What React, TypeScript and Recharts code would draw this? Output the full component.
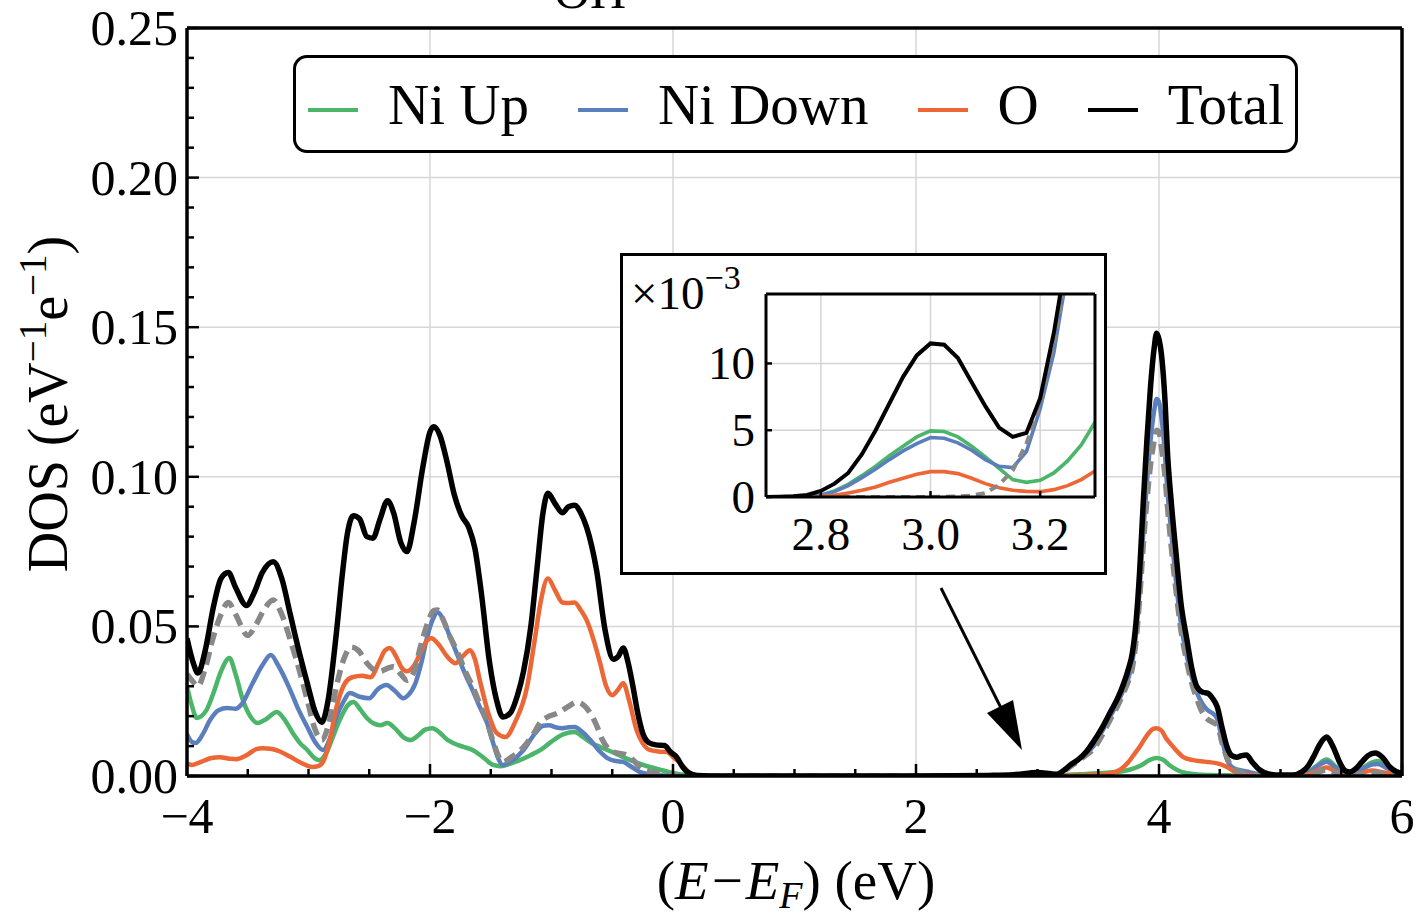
import React from "react";
import { LineChart, Line, XAxis, YAxis, ReferenceLine, Legend } from "recharts";

const FONT = '"Liberation Serif", "Times New Roman", serif';

// main frame in px
const W = 1420;
const H = 918;
const PLOT = { left: 187, right: 1402, top: 28, bottom: 776 };

// axis ticks
const X_TICKS = [-4, -3.5, -3, -2.5, -2, -1.5, -1, -0.5, 0, 0.5, 1, 1.5, 2, 2.5, 3, 3.5, 4, 4.5, 5, 5.5, 6];
const X_LABELS = [-4, -2, 0, 2, 4, 6];
const Y_TICKS = [0, 0.01, 0.02, 0.03, 0.04, 0.05, 0.06, 0.07, 0.08, 0.09, 0.1, 0.11, 0.12, 0.13, 0.14, 0.15,
  0.16, 0.17, 0.18, 0.19, 0.2, 0.21, 0.22, 0.23, 0.24, 0.25];
const Y_LABELS = [0, 0.05, 0.1, 0.15, 0.2, 0.25];
const GRID_X = [-2, 0, 2, 4];
const GRID_Y = [0.05, 0.1, 0.15, 0.2];
const LEGEND_ORDER = ["Ni Up", "Ni Down", "O", "Total"];

// [E - EF (eV), DOS]
const NI_UP: [number, number][] = [
  [-4.0, 0.03], [-3.96, 0.0235], [-3.92, 0.0194], [-3.84, 0.022], [-3.78, 0.028], [-3.72, 0.035], [-3.65, 0.0394],
  [-3.6, 0.034], [-3.54, 0.0254], [-3.48, 0.02], [-3.42, 0.0177], [-3.35, 0.019], [-3.26, 0.0214], [-3.2, 0.019],
  [-3.13, 0.0144], [-3.07, 0.011], [-3.01, 0.0087], [-2.95, 0.006], [-2.91, 0.0053], [-2.85, 0.008], [-2.8, 0.013],
  [-2.74, 0.019], [-2.68, 0.0235], [-2.63, 0.0247], [-2.57, 0.022], [-2.52, 0.0194], [-2.46, 0.0175], [-2.41, 0.017],
  [-2.35, 0.0177], [-2.29, 0.016], [-2.22, 0.013], [-2.16, 0.012], [-2.1, 0.0135], [-2.04, 0.0155], [-1.98, 0.016],
  [-1.92, 0.0145], [-1.86, 0.0122], [-1.81, 0.011], [-1.73, 0.0098], [-1.65, 0.0087], [-1.57, 0.0065], [-1.48, 0.0037],
  [-1.42, 0.0033], [-1.37, 0.0037], [-1.28, 0.005], [-1.18, 0.0068], [-1.09, 0.0087], [-1.0, 0.0115], [-0.9, 0.014],
  [-0.81, 0.0147], [-0.74, 0.013], [-0.67, 0.011], [-0.6, 0.0097], [-0.5, 0.008], [-0.41, 0.0063], [-0.3, 0.0045],
  [-0.19, 0.003], [-0.1, 0.002], [-0.03, 0.0013], [0.05, 0.0006], [0.15, 0.0002], [0.3, 0], [2.6, 0], [3.0, 0.0005],
  [3.2, 0.0003], [3.4, 0.0007], [3.6, 0.0012], [3.75, 0.002], [3.85, 0.0035], [3.93, 0.0055], [3.98, 0.006],
  [4.03, 0.0055], [4.09, 0.0035], [4.15, 0.002], [4.22, 0.001], [4.35, 0.0004], [4.6, 0.0002], [5.0, 0.0001],
  [5.2, 0.0006], [5.3, 0.0035], [5.38, 0.0055], [5.46, 0.003], [5.55, 0.001], [5.65, 0.002], [5.75, 0.0045],
  [5.8, 0.005], [5.88, 0.003], [6.0, 0.0008],
];

const NI_DOWN: [number, number][] = [
  [-4.0, 0.014], [-3.96, 0.0114], [-3.93, 0.011], [-3.87, 0.014], [-3.81, 0.0187], [-3.74, 0.022], [-3.67, 0.0227],
  [-3.6, 0.0225], [-3.55, 0.024], [-3.46, 0.031], [-3.38, 0.037], [-3.31, 0.0404], [-3.25, 0.037], [-3.15, 0.0287],
  [-3.08, 0.022], [-3.01, 0.0164], [-2.94, 0.011], [-2.88, 0.0087], [-2.82, 0.013], [-2.77, 0.0197], [-2.71, 0.025],
  [-2.66, 0.0277], [-2.58, 0.0265], [-2.5, 0.026], [-2.43, 0.029], [-2.36, 0.0304], [-2.29, 0.0285], [-2.22, 0.026],
  [-2.18, 0.027], [-2.12, 0.031], [-2.07, 0.038], [-2.02, 0.047], [-1.97, 0.053], [-1.94, 0.0548], [-1.9, 0.053],
  [-1.84, 0.047], [-1.78, 0.041], [-1.71, 0.034], [-1.65, 0.0287], [-1.59, 0.023], [-1.53, 0.0177], [-1.48, 0.011],
  [-1.44, 0.006], [-1.4, 0.0037], [-1.33, 0.005], [-1.23, 0.0087], [-1.14, 0.014], [-1.07, 0.0168], [-1.02, 0.017],
  [-0.96, 0.0162], [-0.91, 0.016], [-0.86, 0.0163], [-0.81, 0.0164], [-0.74, 0.0145], [-0.68, 0.012], [-0.61, 0.0085],
  [-0.54, 0.006], [-0.47, 0.005], [-0.41, 0.0047], [-0.34, 0.003], [-0.27, 0.0013], [-0.18, 0.0005], [-0.05, 0.0001],
  [0.2, 0], [2.6, 0], [3.0, 0.0004], [3.1, 0.0003], [3.2, 0.0015], [3.3, 0.0045], [3.4, 0.0075], [3.46, 0.01],
  [3.53, 0.0148], [3.6, 0.02], [3.66, 0.0245], [3.71, 0.029], [3.75, 0.033], [3.78, 0.038], [3.81, 0.047],
  [3.84, 0.062], [3.87, 0.081], [3.9, 0.098], [3.93, 0.112], [3.96, 0.122], [3.98, 0.126], [4.0, 0.125],
  [4.02, 0.12], [4.05, 0.107], [4.07, 0.095], [4.1, 0.082], [4.14, 0.065], [4.18, 0.051], [4.23, 0.04],
  [4.27, 0.033], [4.31, 0.028], [4.36, 0.024], [4.4, 0.022], [4.44, 0.021], [4.48, 0.019], [4.52, 0.012],
  [4.56, 0.0055], [4.6, 0.003], [4.66, 0.002], [4.72, 0.0015], [4.8, 0.0008], [4.9, 0.0002], [5.2, 0.0004],
  [5.3, 0.0032], [5.38, 0.0048], [5.46, 0.0025], [5.55, 0.0008], [5.65, 0.0018], [5.75, 0.0038], [5.8, 0.004],
  [5.88, 0.0025], [6.0, 0.0006],
];

const OXYGEN: [number, number][] = [
  [-4.0, 0.004], [-3.96, 0.0037], [-3.9, 0.0045], [-3.8, 0.006], [-3.73, 0.0063], [-3.65, 0.0058], [-3.6, 0.0056],
  [-3.5, 0.0072], [-3.43, 0.009], [-3.38, 0.0093], [-3.3, 0.009], [-3.23, 0.0081], [-3.15, 0.0064], [-3.05, 0.0042],
  [-2.97, 0.003], [-2.92, 0.0033], [-2.88, 0.0048], [-2.83, 0.011], [-2.77, 0.023], [-2.7, 0.031], [-2.64, 0.033],
  [-2.56, 0.0335], [-2.49, 0.033], [-2.42, 0.038], [-2.37, 0.042], [-2.33, 0.0428], [-2.28, 0.04], [-2.23, 0.036],
  [-2.19, 0.035], [-2.13, 0.037], [-2.08, 0.041], [-2.03, 0.045], [-1.99, 0.046], [-1.93, 0.044], [-1.86, 0.04],
  [-1.79, 0.0377], [-1.73, 0.04], [-1.67, 0.042], [-1.63, 0.039], [-1.59, 0.032], [-1.52, 0.021], [-1.45, 0.0143],
  [-1.38, 0.013], [-1.3, 0.018], [-1.2, 0.03], [-1.14, 0.045], [-1.09, 0.058], [-1.03, 0.066], [-0.97, 0.062],
  [-0.91, 0.058], [-0.86, 0.0578], [-0.81, 0.058], [-0.76, 0.0555], [-0.71, 0.052], [-0.65, 0.045], [-0.6, 0.0377],
  [-0.55, 0.03], [-0.5, 0.027], [-0.45, 0.029], [-0.41, 0.031], [-0.36, 0.025], [-0.3, 0.0154], [-0.25, 0.011],
  [-0.19, 0.0087], [-0.12, 0.0082], [-0.05, 0.008], [0.01, 0.006], [0.06, 0.0043], [0.1, 0.0025], [0.14, 0.001],
  [0.2, 0.0002], [0.4, 0], [2.6, 0], [3.0, 0.0002], [3.2, 0.0001], [3.5, 0.0004], [3.65, 0.0015], [3.74, 0.0043],
  [3.8, 0.0075], [3.84, 0.0097], [3.9, 0.0135], [3.95, 0.0157], [3.98, 0.016], [4.02, 0.0152], [4.06, 0.0125],
  [4.09, 0.011], [4.15, 0.0082], [4.2, 0.0063], [4.28, 0.0053], [4.35, 0.0049], [4.4, 0.0047], [4.48, 0.0042],
  [4.56, 0.003], [4.62, 0.0015], [4.7, 0.0005], [4.8, 0.0001], [5.2, 0.0002], [5.3, 0.0018], [5.38, 0.0028],
  [5.45, 0.0016], [5.55, 0.0004], [5.65, 0.0008], [5.75, 0.0018], [5.85, 0.0012], [6.0, 0.0003],
];

const DASHED: [number, number][] = [
  [-4.0, 0.034], [-3.96, 0.032], [-3.91, 0.03], [-3.85, 0.036], [-3.79, 0.0455], [-3.72, 0.054], [-3.66, 0.058],
  [-3.6, 0.054], [-3.5, 0.047], [-3.44, 0.05], [-3.36, 0.056], [-3.29, 0.0588], [-3.22, 0.054], [-3.15, 0.0455],
  [-3.08, 0.036], [-3.01, 0.0254], [-2.95, 0.016], [-2.89, 0.012], [-2.83, 0.018], [-2.77, 0.03], [-2.71, 0.039],
  [-2.65, 0.0431], [-2.59, 0.042], [-2.52, 0.0378], [-2.46, 0.0355], [-2.41, 0.035], [-2.35, 0.036], [-2.3, 0.0365],
  [-2.24, 0.034], [-2.19, 0.032], [-2.13, 0.035], [-2.08, 0.043], [-2.02, 0.051], [-1.97, 0.0553], [-1.94, 0.0555],
  [-1.9, 0.053], [-1.84, 0.047], [-1.78, 0.042], [-1.71, 0.035], [-1.65, 0.03], [-1.59, 0.024], [-1.53, 0.018],
  [-1.48, 0.0115], [-1.44, 0.007], [-1.4, 0.0047], [-1.33, 0.0063], [-1.23, 0.0097], [-1.15, 0.014], [-1.09, 0.018],
  [-1.02, 0.02], [-0.95, 0.021], [-0.87, 0.023], [-0.79, 0.0247], [-0.73, 0.0235], [-0.68, 0.021], [-0.63, 0.017],
  [-0.58, 0.012], [-0.53, 0.009], [-0.49, 0.008], [-0.43, 0.0075], [-0.38, 0.007], [-0.32, 0.005], [-0.27, 0.0027],
  [-0.2, 0.0015], [-0.13, 0.001], [-0.05, 0.0004], [0.1, 0], [3.0, 0], [3.1, 0.0002], [3.2, 0.0012], [3.3, 0.004],
  [3.4, 0.007], [3.46, 0.009], [3.53, 0.0135], [3.6, 0.019], [3.66, 0.0235], [3.71, 0.028], [3.75, 0.032],
  [3.78, 0.036], [3.81, 0.045], [3.84, 0.059], [3.87, 0.077], [3.9, 0.092], [3.93, 0.104], [3.96, 0.112],
  [3.98, 0.1156], [4.0, 0.115], [4.02, 0.11], [4.05, 0.1], [4.07, 0.09], [4.1, 0.077], [4.14, 0.062], [4.18, 0.049],
  [4.23, 0.038], [4.27, 0.031], [4.31, 0.026], [4.36, 0.021], [4.4, 0.019], [4.44, 0.018], [4.48, 0.017],
  [4.52, 0.011], [4.56, 0.006], [4.6, 0.003], [4.66, 0.0015], [4.72, 0.0008], [4.8, 0.0003], [5.0, 0],
  [5.2, 0.0002], [5.3, 0.0012], [5.38, 0.002], [5.46, 0.001], [5.6, 0.0003], [5.75, 0.0012], [5.85, 0.0008],
  [6.0, 0.0002],
];

const TOTAL: [number, number][] = [
  [-4.0, 0.046], [-3.95, 0.038], [-3.91, 0.0344], [-3.85, 0.042], [-3.78, 0.057], [-3.72, 0.066], [-3.66, 0.068],
  [-3.6, 0.063], [-3.51, 0.057], [-3.45, 0.061], [-3.38, 0.068], [-3.29, 0.0716], [-3.22, 0.066], [-3.15, 0.054],
  [-3.08, 0.042], [-3.01, 0.031], [-2.95, 0.022], [-2.89, 0.018], [-2.84, 0.025], [-2.77, 0.048], [-2.72, 0.068],
  [-2.68, 0.081], [-2.63, 0.087], [-2.58, 0.086], [-2.52, 0.08], [-2.47, 0.0795], [-2.41, 0.086], [-2.35, 0.092],
  [-2.3, 0.088], [-2.24, 0.078], [-2.19, 0.075], [-2.13, 0.085], [-2.06, 0.103], [-2.0, 0.115], [-1.97, 0.1167],
  [-1.92, 0.114], [-1.86, 0.105], [-1.8, 0.094], [-1.74, 0.087], [-1.68, 0.083], [-1.63, 0.076], [-1.58, 0.062],
  [-1.51, 0.038], [-1.45, 0.025], [-1.4, 0.0197], [-1.34, 0.021], [-1.28, 0.027], [-1.23, 0.035], [-1.17, 0.05],
  [-1.12, 0.069], [-1.07, 0.088], [-1.03, 0.0945], [-0.97, 0.091], [-0.91, 0.088], [-0.86, 0.09], [-0.81, 0.0905],
  [-0.76, 0.088], [-0.71, 0.083], [-0.67, 0.077], [-0.63, 0.069], [-0.56, 0.049], [-0.49, 0.039], [-0.45, 0.04],
  [-0.41, 0.0428], [-0.37, 0.038], [-0.33, 0.03], [-0.29, 0.021], [-0.25, 0.0144], [-0.2, 0.0112], [-0.14, 0.0104],
  [-0.07, 0.0102], [-0.02, 0.008], [0.03, 0.0063], [0.08, 0.003], [0.13, 0.001], [0.2, 0.0002], [0.4, 0], [2.0, 0],
  [2.6, 0.0002], [2.8, 0.0004], [3.0, 0.0012], [3.1, 0.0008], [3.16, 0.0005], [3.22, 0.002], [3.28, 0.004],
  [3.33, 0.0053], [3.4, 0.008], [3.46, 0.0114], [3.53, 0.016], [3.6, 0.0214], [3.66, 0.026], [3.71, 0.031],
  [3.75, 0.036], [3.78, 0.041], [3.81, 0.051], [3.84, 0.068], [3.87, 0.091], [3.9, 0.112], [3.93, 0.13],
  [3.96, 0.143], [3.98, 0.148], [4.0, 0.146], [4.02, 0.141], [4.05, 0.125], [4.07, 0.108], [4.1, 0.092],
  [4.14, 0.0745], [4.18, 0.058], [4.23, 0.0455], [4.27, 0.036], [4.31, 0.03], [4.36, 0.028], [4.4, 0.0277],
  [4.44, 0.026], [4.48, 0.023], [4.52, 0.016], [4.56, 0.0097], [4.6, 0.0068], [4.64, 0.0063], [4.68, 0.0068],
  [4.72, 0.007], [4.77, 0.0045], [4.83, 0.002], [4.9, 0.0007], [5.0, 0.0003], [5.1, 0.0003], [5.18, 0.0015],
  [5.23, 0.0035], [5.27, 0.0063], [5.33, 0.011], [5.38, 0.013], [5.43, 0.01], [5.49, 0.0043], [5.53, 0.0018],
  [5.57, 0.0013], [5.62, 0.0025], [5.67, 0.0047], [5.72, 0.0068], [5.78, 0.0077], [5.84, 0.0062], [5.9, 0.003],
  [5.95, 0.0015], [6.0, 0.0008],
];

// inset (x10^-3)
const INSET_E = [2.7, 2.725, 2.75, 2.775, 2.8, 2.825, 2.85, 2.875, 2.9, 2.925, 2.95, 2.975, 3.0, 3.025, 3.05,
  3.075, 3.1, 3.125, 3.15, 3.175, 3.2, 3.225, 3.25, 3.275, 3.3];
const INSET_UP = [0, 0.01, 0.03, 0.08, 0.15, 0.45, 0.95, 1.6, 2.3, 3.1, 3.8, 4.5, 4.95, 4.9, 4.5, 3.8, 3.0, 2.15,
  1.3, 1.1, 1.25, 1.8, 2.7, 3.9, 5.6];
const INSET_DOWN = [0, 0.01, 0.03, 0.07, 0.13, 0.4, 0.85, 1.45, 2.1, 2.8, 3.45, 4.0, 4.45, 4.4, 4.05, 3.5, 2.8,
  2.3, 2.2, 3.4, 6.6, 10.8, 17, 24, 32];
const INSET_O = [0, 0.005, 0.01, 0.03, 0.05, 0.12, 0.3, 0.5, 0.75, 1.1, 1.4, 1.7, 1.9, 1.9, 1.75, 1.4, 1.0, 0.7,
  0.5, 0.42, 0.4, 0.55, 0.85, 1.3, 1.95];
const INSET_DASH = [0, 0, 0, 0, 0, 0, 0, 0, 0, 0, 0, 0, 0, 0.02, 0.05, 0.1, 0.3, 0.9, 2.0, 4.0, 7.0, 11.5, 17,
  24, 32];
const INSET_TOTAL = [0, 0.02, 0.05, 0.15, 0.45, 1.0, 1.8, 3.2, 5.0, 7.0, 9.0, 10.6, 11.5, 11.4, 10.4, 8.6, 6.8,
  5.2, 4.5, 4.8, 7.4, 12.3, 18.5, 26, 34];
const INSET_X_TICKS = [2.8, 3.0, 3.2];
const INSET_Y_TICKS = [0, 5, 10];

const C_UP = "#4bb56a";
const C_DOWN = "#5b7fbd";
const C_O = "#ec6636";
const C_DASH = "#888888";

const toPts = (arr: [number, number][]) => arr.map(([e, v]) => ({ e, v }));
const insetPts = (vals: number[]) => INSET_E.map((e, i) => ({ e, v: vals[i] }));
const has = (list: number[], v: number) => list.some((t) => Math.abs(t - v) < 1e-9);
const fmtX = (v: number) => (v < 0 ? "\u2212" + Math.abs(v) : String(v));

const tickStroke = { stroke: "#000", strokeWidth: 2.5 };

function BottomTick(props: any) {
  const { x, payload } = props;
  const major = has(X_LABELS, payload.value);
  return (
    <g>
      <line x1={x} x2={x} y1={PLOT.bottom} y2={PLOT.bottom - (major ? 12 : 7)} {...tickStroke} />
      {major && (
        <text x={x} y={PLOT.bottom + 57} textAnchor="middle" fontFamily={FONT} fontSize={50} fill="#000">
          {fmtX(payload.value)}
        </text>
      )}
    </g>
  );
}

function TopTick(props: any) {
  const { x, payload } = props;
  const major = has(X_LABELS, payload.value);
  return <line x1={x} x2={x} y1={PLOT.top} y2={PLOT.top + (major ? 12 : 7)} {...tickStroke} />;
}

function LeftTick(props: any) {
  const { y, payload } = props;
  const major = has(Y_LABELS, payload.value);
  return (
    <g>
      <line x1={PLOT.left} x2={PLOT.left + (major ? 12 : 7)} y1={y} y2={y} {...tickStroke} />
      {major && (
        <text x={178} y={y + 17} textAnchor="end" fontFamily={FONT} fontSize={50} fill="#000">
          {payload.value.toFixed(2)}
        </text>
      )}
    </g>
  );
}

function RightTick(props: any) {
  const { y, payload } = props;
  const major = has(Y_LABELS, payload.value);
  return <line x1={PLOT.right} x2={PLOT.right - (major ? 12 : 7)} y1={y} y2={y} {...tickStroke} />;
}

function XTitle() {
  return (
    <text x={796} y={899} textAnchor="middle" fontFamily={FONT} fontSize={55} fill="#000">
      (<tspan fontStyle="italic">E</tspan>
      <tspan dx={3}>{"\u2212"}</tspan>
      <tspan fontStyle="italic" dx={3}>E</tspan>
      <tspan fontStyle="italic" fontSize={38} dy={9}>F</tspan>
      <tspan dy={-9}>) (eV)</tspan>
    </text>
  );
}

function YTitle() {
  return (
    <text transform="translate(67,404) rotate(-90)" textAnchor="middle" fontFamily={FONT} fontSize={56} fill="#000">
      DOS (eV
      <tspan fontSize={39} dy={-21}>{"\u22121"}</tspan>
      <tspan dy={21}>e</tspan>
      <tspan fontSize={39} dy={-21}>{"\u22121"}</tspan>
      <tspan dy={21}>)</tspan>
    </text>
  );
}

function LegendBox(props: any) {
  const items = (props.payload || [])
    .filter((p: any) => p.type !== "none")
    .sort((a: any, b: any) => LEGEND_ORDER.indexOf(a.value) - LEGEND_ORDER.indexOf(b.value));
  return (
    <div
      style={{
        boxSizing: "border-box",
        width: 1005,
        height: 98,
        border: "3px solid #000",
        borderRadius: 14,
        background: "#fff",
        display: "flex",
        alignItems: "center",
        paddingLeft: 12,
        fontFamily: FONT,
        fontSize: 57,
        color: "#000",
        lineHeight: 1,
        whiteSpace: "nowrap",
      }}
    >
      {items.map((it: any) => (
        <div key={it.value} style={{ display: "flex", alignItems: "center", marginRight: 49, flexShrink: 0 }}>
          <span
            style={{
              display: "inline-block",
              width: 50,
              height: 4,
              background: it.color,
              marginRight: 30,
              position: "relative",
              top: 6,
              flexShrink: 0,
            }}
          />
          <span>{it.value}</span>
        </div>
      ))}
    </div>
  );
}

// inset frame (relative to inset svg)
const IN = { left: 143, right: 472, top: 38, bottom: 241 };

function InsetBottomTick(props: any) {
  const { x, payload } = props;
  return (
    <g>
      <line x1={x} x2={x} y1={IN.bottom} y2={IN.bottom - 6} {...tickStroke} />
      <text x={x} y={IN.bottom + 53} textAnchor="middle" fontFamily={FONT} fontSize={47} fill="#000">
        {payload.value.toFixed(1)}
      </text>
    </g>
  );
}

function InsetLeftTick(props: any) {
  const { y, payload } = props;
  return (
    <g>
      <line x1={IN.left} x2={IN.left + 6} y1={y} y2={y} {...tickStroke} />
      <text x={IN.left - 11} y={y + 16} textAnchor="end" fontFamily={FONT} fontSize={47} fill="#000">
        {payload.value}
      </text>
    </g>
  );
}

function Inset() {
  return (
    <div
      style={{
        position: "absolute",
        left: 620,
        top: 253,
        width: 487,
        height: 322,
        boxSizing: "border-box",
        border: "3px solid #000",
        background: "#fff",
      }}
    >
      <LineChart width={481} height={316} margin={{ top: 37, right: 8, left: 0, bottom: 0 }}>
        <XAxis
          dataKey="e"
          type="number"
          domain={[2.7, 3.3]}
          ticks={INSET_X_TICKS}
          interval={0}
          allowDataOverflow
          height={75}
          tickLine={false}
          axisLine={{ stroke: "#000", strokeWidth: 3 }}
          tick={<InsetBottomTick />}
        />
        <XAxis xAxisId="top" orientation="top" type="number" domain={[2.7, 3.3]} height={1} tick={false}
          tickLine={false} axisLine={{ stroke: "#000", strokeWidth: 3 }} />
        <YAxis
          type="number"
          domain={[0, 15.2]}
          ticks={INSET_Y_TICKS}
          interval={0}
          allowDataOverflow
          width={143}
          tickLine={false}
          axisLine={{ stroke: "#000", strokeWidth: 3 }}
          tick={<InsetLeftTick />}
        />
        <YAxis yAxisId="r" orientation="right" type="number" domain={[0, 15.2]} width={1} tick={false}
          tickLine={false} axisLine={{ stroke: "#000", strokeWidth: 3 }} />
        {INSET_X_TICKS.map((v) => (
          <ReferenceLine key={"ix" + v} x={v} stroke="#d4d4d4" strokeWidth={1.5} />
        ))}
        {[5, 10].map((v) => (
          <ReferenceLine key={"iy" + v} y={v} stroke="#d4d4d4" strokeWidth={1.5} />
        ))}
        <Line data={insetPts(INSET_UP)} dataKey="v" type="linear" stroke={C_UP} strokeWidth={3.6} dot={false} isAnimationActive={false} />
        <Line data={insetPts(INSET_DOWN)} dataKey="v" type="linear" stroke={C_DOWN} strokeWidth={3.6} dot={false} isAnimationActive={false} />
        <Line data={insetPts(INSET_O)} dataKey="v" type="linear" stroke={C_O} strokeWidth={3.6} dot={false} isAnimationActive={false} />
        <Line data={insetPts(INSET_DASH)} dataKey="v" type="linear" stroke={C_DASH} strokeWidth={4} strokeDasharray="9 6" dot={false} isAnimationActive={false} />
        <Line data={insetPts(INSET_TOTAL)} dataKey="v" type="linear" stroke="#000" strokeWidth={4} dot={false} isAnimationActive={false} />
      </LineChart>
      <div
        style={{
          position: "absolute",
          left: 8,
          top: 14,
          fontFamily: FONT,
          fontSize: 47,
          lineHeight: 1,
          color: "#000",
          whiteSpace: "nowrap",
        }}
      >
        {"\u00d710"}
        <span style={{ fontSize: 34, position: "relative", top: -20 }}>{"\u22123"}</span>
      </div>
    </div>
  );
}

function Overlay() {
  // annotation arrow and the partly cut title
  const tip = { x: 1022, y: 750 };
  return (
    <svg width={W} height={H} style={{ position: "absolute", left: 0, top: 0, pointerEvents: "none" }}>
      <text x={590} y={8} textAnchor="middle" fontFamily={FONT} fontSize={50} fill="#000">
        OH
      </text>
      <line x1={941} y1={588} x2={1003} y2={712} stroke="#000" strokeWidth={3} />
      <polygon points={`${tip.x},${tip.y} 987,713 1013,700`} fill="#000" />
    </svg>
  );
}

export default function App() {
  return (
    <div style={{ position: "absolute", left: 0, top: 0, width: W, height: H, background: "#fff" }}>
      <LineChart width={W} height={H} margin={{ top: 27, right: 17, left: 0, bottom: 0 }}>
        <XAxis
          dataKey="e"
          type="number"
          domain={[-4, 6]}
          ticks={X_TICKS}
          interval={0}
          allowDataOverflow
          height={142}
          tickLine={false}
          axisLine={{ stroke: "#000", strokeWidth: 3.5 }}
          tick={<BottomTick />}
          label={<XTitle />}
        />
        <XAxis
          xAxisId="top"
          orientation="top"
          type="number"
          domain={[-4, 6]}
          ticks={X_TICKS}
          interval={0}
          height={1}
          tickLine={false}
          axisLine={{ stroke: "#000", strokeWidth: 3.5 }}
          tick={<TopTick />}
        />
        <YAxis
          type="number"
          domain={[0, 0.25]}
          ticks={Y_TICKS}
          interval={0}
          allowDataOverflow
          width={187}
          tickLine={false}
          axisLine={{ stroke: "#000", strokeWidth: 3.5 }}
          tick={<LeftTick />}
          label={<YTitle />}
        />
        <YAxis
          yAxisId="r"
          orientation="right"
          type="number"
          domain={[0, 0.25]}
          ticks={Y_TICKS}
          interval={0}
          width={1}
          tickLine={false}
          axisLine={{ stroke: "#000", strokeWidth: 3.5 }}
          tick={<RightTick />}
        />
        {GRID_X.map((v) => (
          <ReferenceLine key={"gx" + v} x={v} stroke="#d6d6d6" strokeWidth={1.5} />
        ))}
        {GRID_Y.map((v) => (
          <ReferenceLine key={"gy" + v} y={v} stroke="#d6d6d6" strokeWidth={1.5} />
        ))}
        <Legend
          verticalAlign="middle"
          layout="horizontal"
          wrapperStyle={{ left: 293, top: 55, width: 1005, height: 98 }}
          content={<LegendBox />}
        />
        <Line name="Ni Up" data={toPts(NI_UP)} dataKey="v" type="monotone" stroke={C_UP} strokeWidth={4.5} dot={false} isAnimationActive={false} />
        <Line name="Ni Down" data={toPts(NI_DOWN)} dataKey="v" type="monotone" stroke={C_DOWN} strokeWidth={4.5} dot={false} isAnimationActive={false} />
        <Line name="O" data={toPts(OXYGEN)} dataKey="v" type="monotone" stroke={C_O} strokeWidth={4.5} dot={false} isAnimationActive={false} />
        <Line name="Ni" legendType="none" data={toPts(DASHED)} dataKey="v" type="monotone" stroke={C_DASH} strokeWidth={5.5} strokeDasharray="13 7" dot={false} isAnimationActive={false} />
        <Line name="Total" data={toPts(TOTAL)} dataKey="v" type="monotone" stroke="#000" strokeWidth={5.5} dot={false} isAnimationActive={false} />
      </LineChart>
      <Overlay />
      <Inset />
    </div>
  );
}
